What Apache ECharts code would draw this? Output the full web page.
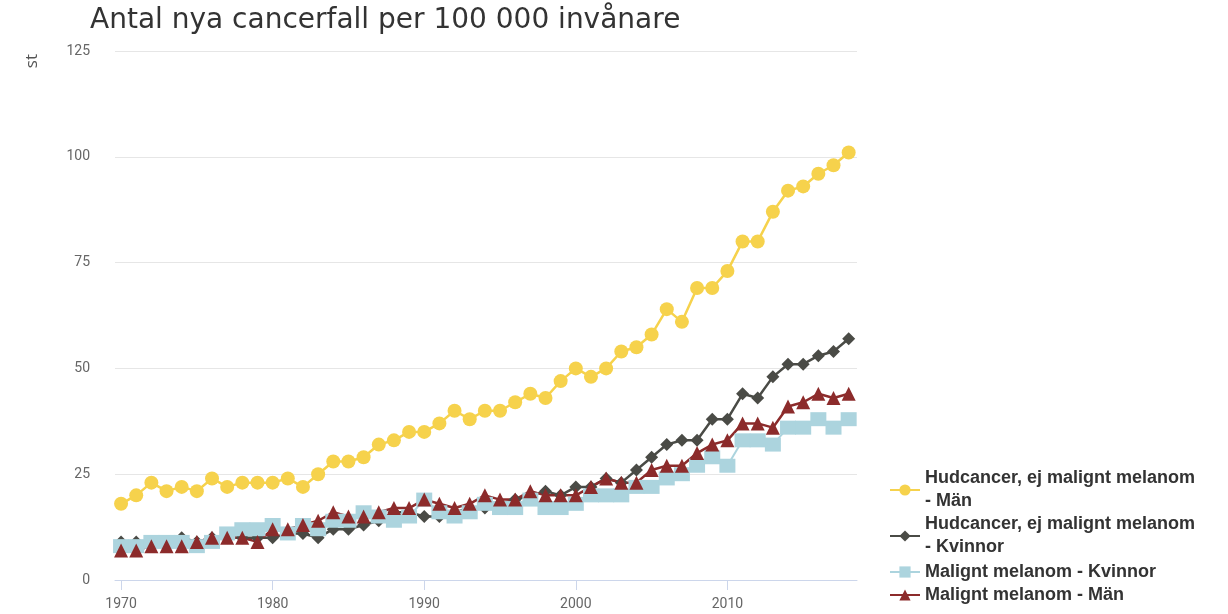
<!DOCTYPE html>
<html>
<head>
<meta charset="utf-8">
<script src="https://cdn.jsdelivr.net/npm/echarts@6/dist/echarts.min.js"></script>
<style>
  html, body { margin: 0; padding: 0; background: #fff; }
  #chart { width: 1228px; height: 614px; }
</style>
</head>
<body>
<div id="chart"></div>
<script>
// år 1970-2018
const years = []
for (let y = 1970; y <= 2018; y++) years.push(y)

const hudMan = [18, 20, 23, 21, 22, 21, 24, 22, 23, 23, 23, 24, 22, 25, 28, 28, 29, 32, 33, 35,
  35, 37, 40, 38, 40, 40, 42, 44, 43, 47, 50, 48, 50, 54, 55, 58, 64, 61, 69, 69,
  73, 80, 80, 87, 92, 93, 96, 98, 101]
const hudKvinnor = [9, 9, 9, 9, 10, 9, 10, 10, 10, 10, 10, 11, 11, 10, 12, 12, 13, 14, 16, 16,
  15, 15, 16, 17, 17, 18, 19, 20, 21, 20, 22, 22, 24, 23, 26, 29, 32, 33, 33, 38,
  38, 44, 43, 48, 51, 51, 53, 54, 57]
const melKvinnor = [8, 8, 9, 9, 9, 8, 9, 11, 12, 12, 13, 11, 13, 12, 14, 14, 16, 15, 14, 15,
  19, 16, 15, 16, 18, 17, 17, 19, 17, 17, 18, 20, 20, 20, 22, 22, 24, 25, 27, 29,
  27, 33, 33, 32, 36, 36, 38, 36, 38]
const melMan = [7, 7, 8, 8, 8, 9, 10, 10, 10, 9, 12, 12, 13, 14, 16, 15, 15, 16, 17, 17,
  19, 18, 17, 18, 20, 19, 19, 21, 20, 20, 20, 22, 24, 23, 23, 26, 27, 27, 30, 32,
  33, 37, 37, 36, 41, 42, 44, 43, 44]

const xLabels = [1970, 1980, 1990, 2000, 2010]

const names = [
  'Hudcancer, ej malignt melanom - Män',
  'Hudcancer, ej malignt melanom - Kvinnor',
  'Malignt melanom - Kvinnor',
  'Malignt melanom - Män'
]

function pairs(vals) {
  return years.map((y, i) => [y, vals[i]])
}

// en legend per post, så att symbolen hamnar vid första raden
const legendTops = [455.5, 501.5, 560.5, 583.5]
const legends = names.map((n, i) => ({
  orient: 'vertical',
  left: 889,
  top: legendTops[i],
  padding: 0,
  itemWidth: 30,
  itemHeight: 14,
  textStyle: {
    fontFamily: 'Liberation Sans', fontSize: 18, fontWeight: 'bold', color: '#333', lineHeight: 23,
    padding: i < 2 ? [23, 0, 0, 0] : 0
  },
  formatter: name => name.indexOf('Hudcancer') === 0 ? name.replace(' - ', '\n- ') : name,
  data: [n]
}))

const myChart = echarts.init(document.getElementById('chart'))

const option = {
  animation: false,
  backgroundColor: '#fff',
  title: {
    text: 'Antal nya cancerfall per 100 000 invånare',
    left: 85,
    top: 2,
    textStyle: { fontFamily: 'DejaVu Sans', fontSize: 28, fontWeight: 'normal', color: '#333' }
  },
  graphic: [{
    type: 'text',
    left: 24,
    top: 54,
    rotation: Math.PI / 2,
    style: { text: 'st', font: '17px "Open Sans"', fill: '#555' }
  }],
  grid: { left: 115, right: 371, top: 51, bottom: 34 },
  legend: legends,
  xAxis: {
    type: 'value',
    min: 1969.6,
    max: 2018.55,
    axisLine: { lineStyle: { color: '#ccd6eb' } },
    axisTick: { show: true, length: 10, lineStyle: { color: '#ccd6eb' }, customValues: xLabels },
    axisLabel: {
      customValues: xLabels,
      formatter: v => String(v),
      color: '#666',
      fontFamily: 'Roboto',
      fontSize: 14,
      margin: 17
    },
    splitLine: { show: false }
  },
  yAxis: {
    type: 'value',
    min: 0,
    max: 125,
    interval: 25,
    axisLine: { show: false },
    axisTick: { show: false },
    axisLabel: { color: '#666', fontFamily: 'Roboto', fontSize: 14, margin: 25 },
    splitLine: { lineStyle: { color: '#e6e6e6', width: 1 } }
  },
  series: [
    {
      name: names[0],
      type: 'line',
      data: pairs(hudMan),
      symbol: 'circle',
      symbolSize: 14,
      color: '#f6d24c',
      lineStyle: { width: 2.5 }
    },
    {
      name: names[1],
      type: 'line',
      data: pairs(hudKvinnor),
      symbol: 'diamond',
      symbolSize: 13,
      color: '#4a4b46',
      lineStyle: { width: 2.5 }
    },
    {
      name: names[2],
      type: 'line',
      data: pairs(melKvinnor),
      symbol: 'rect',
      symbolSize: [16, 14],
      color: '#acd4de',
      lineStyle: { width: 2 }
    },
    {
      name: names[3],
      type: 'line',
      data: pairs(melMan),
      symbol: 'triangle',
      symbolSize: 14,
      color: '#8c2b2b',
      lineStyle: { width: 2.5 }
    }
  ]
}

myChart.setOption(option)
</script>
</body>
</html>
